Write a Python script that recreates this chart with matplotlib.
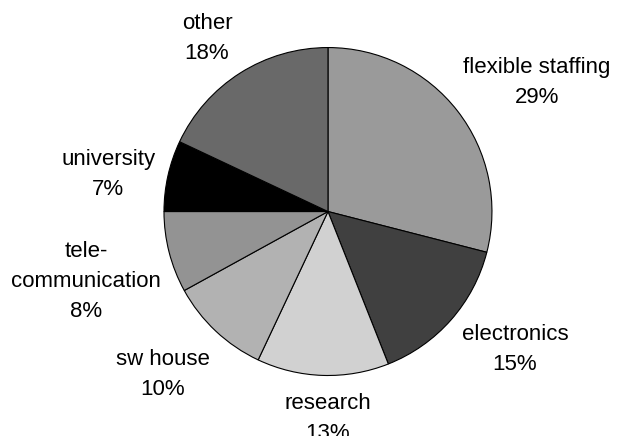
import matplotlib.pyplot as plt

labels = ['flexible staffing', 'electronics', 'research', 'sw house',
          'tele-\ncommunication', 'university', 'other']
shares = [29, 15, 13, 10, 8, 7, 18]
colors = ['#9a9a9a', '#404040', '#d1d1d1', '#b2b2b2', '#939393', '#000000', '#696969']
# label centres, in pie radius units
label_pos = [(1.274, 0.787), (1.140, -0.841), (0.0, -1.262), (-1.006, -0.994),
             (-1.476, -0.427), (-1.341, 0.226), (-0.738, 1.055)]

plt.rcParams['font.family'] = ['Liberation Sans', 'DejaVu Sans']

fig = plt.figure(figsize=(6.22, 4.36), dpi=100)
ax = fig.add_axes([0, 0, 1, 1])
ax.pie(shares, colors=colors, startangle=90, counterclock=False, radius=1,
       wedgeprops={'edgecolor': 'black', 'linewidth': 0.8})

for lab, val, (x, y) in zip(labels, shares, label_pos):
    ax.text(x, y, f'{lab}\n{val}%', ha='center', va='center',
            fontsize=16, linespacing=1.55)

ax.set_xlim(-2.0, 1.793)
ax.set_ylim(-1.369, 1.290)
ax.set_aspect('auto')
ax.axis('off')

fig.savefig('out.png', dpi=100)
